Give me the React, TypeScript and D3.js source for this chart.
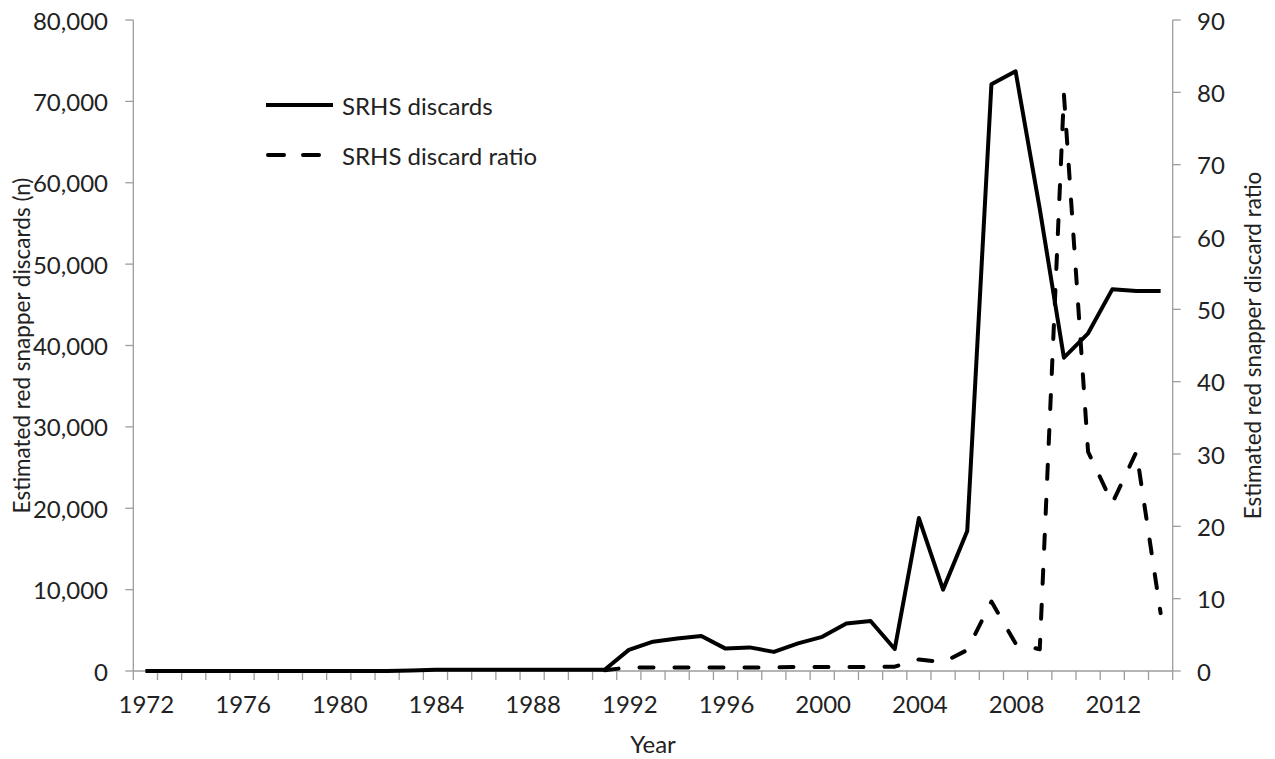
import React from "react";
import * as d3 from "d3";

const years: number[] = d3.range(1972, 2015);

const discards: number[] = [
  0, 0, 0, 0, 0, 0, 0, 0, 0, 0, 0, 50,
  150, 150, 150, 150, 150, 150, 150, 150,
  2600, 3600, 4000, 4300, 2750, 2900, 2350, 3400, 4200, 5850, 6150, 2700,
  18800, 10000, 17200, 72100, 73700, 56800, 38500, 41500, 46900, 46700, 46700,
];

const ratioYears: number[] = d3.range(1991, 2015);
const ratio: number[] = [
  0.1, 0.5, 0.5, 0.5, 0.5, 0.5, 0.5, 0.5, 0.55, 0.55, 0.55, 0.55, 0.6,
  1.6, 1.2, 2.9, 9.6, 3.8, 3.0, 79.7, 30.3, 23.2, 30.3, 8.0,
];

const leftTicks: number[] = d3.range(0, 80001, 10000);
const rightTicks: number[] = d3.range(0, 91, 10);
const labelYears: number[] = d3.range(1972, 2015, 4);

const FONT = "Lato, 'Open Sans', sans-serif";
const AXIS = "#9d9d9d";

export default function App() {
  const W = 1275;
  const H = 759;
  const left = 133.3;
  const right = 1172.7;
  const top = 20;
  const bottom = 671;

  const x = d3.scaleBand<number>().domain(years).range([left, right]).padding(0);
  const cx = (yr: number) => (x(yr) as number) + x.bandwidth() / 2;
  const yL = d3.scaleLinear().domain([0, 80000]).range([bottom, top]);
  const yR = d3.scaleLinear().domain([0, 90]).range([bottom, top]);

  const fmt = d3.format(",");

  const lineL = d3
    .line<number>()
    .x((_, i) => cx(years[i]))
    .y((d) => yL(d));
  const lineR = d3
    .line<number>()
    .x((_, i) => cx(ratioYears[i]))
    .y((d) => yR(d));

  const boundaries = d3.range(0, years.length + 1).map((i) => left + i * x.bandwidth());

  return (
    <svg width={W} height={H} style={{ position: "absolute", left: 0, top: 0, background: "#fff" }}>
      <rect x={0} y={0} width={W} height={H} fill="#fff" />
      {/* axes */}
      <line x1={left} x2={left} y1={top} y2={bottom} stroke={AXIS} strokeWidth={1.3} />
      <line x1={right} x2={right} y1={top} y2={bottom} stroke={AXIS} strokeWidth={1.3} />
      <line x1={left} x2={right} y1={bottom} y2={bottom} stroke={AXIS} strokeWidth={1.3} />
      {leftTicks.map((t) => (
        <g key={"l" + t}>
          <line x1={left - 8} x2={left} y1={yL(t)} y2={yL(t)} stroke={AXIS} strokeWidth={1.3} />
          <text
            x={108}
            y={yL(t)}
            textAnchor="end"
            dominantBaseline="central"
            fontFamily={FONT}
            fontSize={24}
            fill="#222"
          >
            {fmt(t)}
          </text>
        </g>
      ))}
      {rightTicks.map((t) => (
        <g key={"r" + t}>
          <line x1={right} x2={right + 8} y1={yR(t)} y2={yR(t)} stroke={AXIS} strokeWidth={1.3} />
          <text
            x={1197}
            y={yR(t)}
            textAnchor="start"
            dominantBaseline="central"
            fontFamily={FONT}
            fontSize={24}
            fill="#222"
          >
            {t}
          </text>
        </g>
      ))}
      {boundaries.map((b, i) => (
        <line key={"b" + i} x1={b} x2={b} y1={bottom} y2={bottom + 9} stroke={AXIS} strokeWidth={1.3} />
      ))}
      {labelYears.map((yr) => (
        <text
          key={"y" + yr}
          x={cx(yr) + 1}
          y={713}
          textAnchor="middle"
          fontFamily={FONT}
          fontSize={24}
          fill="#222"
        >
          {yr}
        </text>
      ))}
      {/* titles */}
      <text
        transform={`translate(30, ${(top + bottom) / 2}) rotate(-90)`}
        textAnchor="middle"
        fontFamily={FONT}
        fontSize={22.5}
        fill="#222"
      >
        Estimated red snapper discards (n)
      </text>
      <text
        transform={`translate(1261, ${(top + bottom) / 2}) rotate(-90)`}
        textAnchor="middle"
        fontFamily={FONT}
        fontSize={22.5}
        fill="#222"
      >
        Estimated red snapper discard ratio
      </text>
      <text x={(left + right) / 2} y={753} textAnchor="middle" fontFamily={FONT} fontSize={24} fill="#222">
        Year
      </text>
      {/* series */}
      <path
        d={lineR(ratio) || ""}
        fill="none"
        stroke="#000"
        strokeWidth={4}
        strokeDasharray="14 21"
        strokeLinecap="round"
        strokeLinejoin="round"
      />
      <path d={lineL(discards) || ""} fill="none" stroke="#000" strokeWidth={4} strokeLinejoin="round" />
      {/* legend */}
      <line x1={266} x2={333} y1={105} y2={105} stroke="#000" strokeWidth={4} />
      <text x={342} y={105} dominantBaseline="central" fontFamily={FONT} fontSize={24} fill="#222">
        SRHS discards
      </text>
      <line
        x1={268}
        x2={333}
        y1={155}
        y2={155}
        stroke="#000"
        strokeWidth={4}
        strokeDasharray="16 19"
        strokeLinecap="round"
      />
      <text x={342} y={155} dominantBaseline="central" fontFamily={FONT} fontSize={24} fill="#222">
        SRHS discard ratio
      </text>
    </svg>
  );
}
